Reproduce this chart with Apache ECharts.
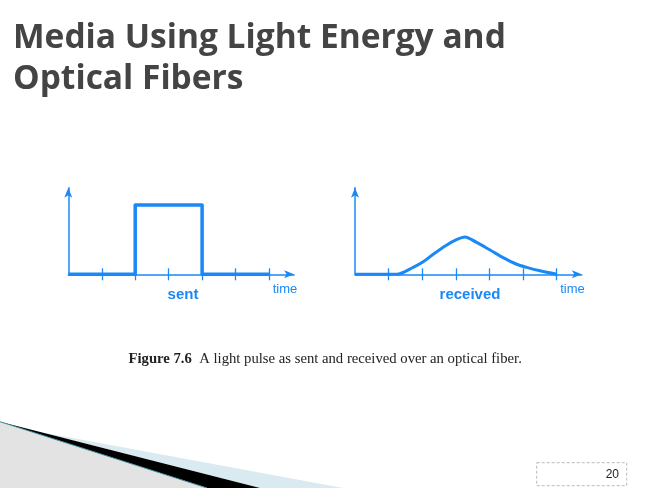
<!DOCTYPE html>
<html>
<head>
<meta charset="utf-8">
<script src="https://cdn.jsdelivr.net/npm/echarts@6/dist/echarts.min.js"></script>
<style>
  html, body { margin: 0; padding: 0; background: #fff; }
  #main { width: 657px; height: 488px; }
</style>
</head>
<body>
<div id="main"></div>
<script>
// sent pulse (time units, height units)
var sentX = [0, 2, 2, 4, 4, 6];
var sentY = [0, 0, 1, 1, 0, 0];
// received pulse, spread out and lower
var recvX = [0, 1.24, 1.73, 2.03, 2.33, 2.72, 3.02, 3.27, 3.62, 4.02, 4.41, 4.81, 5.11, 5.51, 6.0];
var recvY = [0, 0, 0.10, 0.18, 0.29, 0.42, 0.50, 0.54, 0.46, 0.35, 0.24, 0.145, 0.10, 0.05, 0];
var tickValues = [1, 2, 3, 4, 5, 6];
var chartNames = ['sent', 'received'];
var axisName = 'time';
var titleText = 'Media Using Light Energy and\nOptical Fibers';
var pageNo = '20';

var blue = '#1a88f6';
var xMax = 6.75;
var yMax = 1.25;

function pairs(xs, ys) {
  var out = [];
  for (var i = 0; i < xs.length; i++) {
    out.push([xs[i], ys[i]]);
  }
  return out;
}

function makeXAxis(gridIndex, inside) {
  return {
    type: 'value',
    gridIndex: gridIndex,
    position: 'bottom',
    min: 0,
    max: xMax,
    axisLine: {
      show: !inside,
      symbol: ['none', 'arrow'],
      symbolSize: [6, 10],
      lineStyle: { color: blue, width: 1.5 }
    },
    axisTick: {
      show: true,
      inside: inside,
      length: 6,
      customValues: tickValues,
      lineStyle: { color: blue, width: 1.3 }
    },
    axisLabel: { show: false },
    splitLine: { show: false }
  };
}

function makeYAxis(gridIndex) {
  return {
    type: 'value',
    gridIndex: gridIndex,
    min: 0,
    max: yMax,
    axisLine: {
      show: true,
      symbol: ['none', 'arrow'],
      symbolSize: [6, 10],
      lineStyle: { color: blue, width: 1.5 }
    },
    axisTick: { show: false },
    axisLabel: { show: false },
    splitLine: { show: false }
  };
}

var chart = echarts.init(document.getElementById('main'), null, { renderer: 'canvas' });

var option = {
  backgroundColor: '#fff',
  animation: false,
  grid: [
    { left: 68.3, top: 187.7, width: 225.8, height: 86.6 },
    { left: 355, top: 187.7, width: 226.8, height: 86.6 }
  ],
  xAxis: [makeXAxis(0, false), makeXAxis(0, true), makeXAxis(1, false), makeXAxis(1, true)],
  yAxis: [makeYAxis(0), makeYAxis(1)],
  series: [
    {
      name: chartNames[0],
      type: 'line',
      xAxisIndex: 0,
      yAxisIndex: 0,
      data: pairs(sentX, sentY),
      showSymbol: false,
      clip: false,
      lineStyle: { color: blue, width: 3.5, join: 'round' }
    },
    {
      name: chartNames[1],
      type: 'line',
      xAxisIndex: 2,
      yAxisIndex: 1,
      data: pairs(recvX, recvY),
      smooth: 0.3,
      showSymbol: false,
      clip: false,
      lineStyle: { color: blue, width: 3 }
    }
  ],
  graphic: [
    // slide title
    {
      type: 'text', left: 13, top: 18,
      style: {
        text: titleText,
        font: 'bold 33.5px "Open Sans"',
        lineHeight: 41,
        fill: '#444'
      }
    },
    // chart labels
    {
      type: 'text', x: 183, y: 295,
      style: { text: chartNames[0], font: 'bold 15px "Liberation Sans"', fill: blue, align: 'center', verticalAlign: 'middle' }
    },
    {
      type: 'text', x: 470, y: 295,
      style: { text: chartNames[1], font: 'bold 15px "Liberation Sans"', fill: blue, align: 'center', verticalAlign: 'middle' }
    },
    {
      type: 'text', x: 285, y: 289,
      style: { text: axisName, font: '13px "Liberation Sans"', fill: blue, align: 'center', verticalAlign: 'middle' }
    },
    {
      type: 'text', x: 572.5, y: 289,
      style: { text: axisName, font: '13px "Liberation Sans"', fill: blue, align: 'center', verticalAlign: 'middle' }
    },
    // figure caption
    {
      type: 'text', x: 128.5, y: 359,
      style: {
        text: '{b|Figure 7.6}  A light pulse as sent and received over an optical fiber.',
        font: '14.7px "Liberation Serif"',
        fill: '#222',
        verticalAlign: 'middle',
        rich: {
          b: { fontFamily: 'Liberation Serif', fontWeight: 'bold', fontSize: 14.7, fill: '#222' }
        }
      }
    },
    // bottom left decoration
    {
      type: 'polygon',
      shape: { points: [[40, 432], [343, 488], [260, 488]] },
      style: { fill: '#d9eaf0' }
    },
    {
      type: 'polygon',
      shape: { points: [[0, 421.7], [260, 488], [207, 488]] },
      style: { fill: '#000' }
    },
    {
      type: 'polygon',
      shape: { points: [[0, 421.7], [207, 488], [0, 488]] },
      style: { fill: '#e3e3e3' }
    },
    {
      type: 'polyline',
      shape: { points: [[0, 421.7], [207, 488]] },
      style: { stroke: '#3d8c9c', lineWidth: 1 }
    },
    // page number box
    {
      type: 'rect',
      shape: { x: 536.7, y: 462.7, width: 90, height: 23 },
      style: { fill: 'none', stroke: '#bbb', lineWidth: 1, lineDash: [3, 2] }
    },
    {
      type: 'text', x: 619, y: 475,
      style: { text: pageNo, font: '12px "Liberation Sans"', fill: '#222', align: 'right', verticalAlign: 'middle' }
    }
  ]
};

chart.setOption(option);
</script>
</body>
</html>
